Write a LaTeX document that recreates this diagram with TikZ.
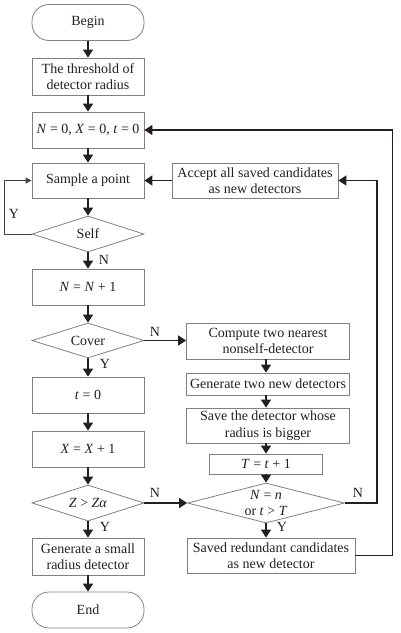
\documentclass[tikz,border=0pt]{standalone}
\usepackage{fontspec}
\setmainfont{Liberation Serif}
\usetikzlibrary{arrows.meta,shapes.geometric}
\newcommand{\myfs}{\fontsize{14pt}{16.5pt}\selectfont}
\definecolor{boxgray}{RGB}{128,128,128}
\definecolor{linecol}{RGB}{35,31,32}
\tikzset{
  box/.style={draw=boxgray, line width=0.8pt, minimum width=112pt, minimum height=36pt, inner sep=1pt, align=center, font=\myfs, text=linecol},
  term/.style={box, rounded corners=17pt},
  dec/.style={draw=boxgray, line width=0.8pt, diamond, minimum width=112pt, minimum height=36pt, inner sep=0pt, aspect=3.1, align=center, font=\myfs, text=linecol},
  conn/.style={draw=linecol, line width=1.6pt, -{Triangle[length=8pt,width=10pt]}},
  thinconn/.style={draw=linecol!85, line width=0.8pt, -{Triangle[length=6pt,width=6pt]}},
  lab/.style={font=\myfs, inner sep=0pt, text=linecol}
}
\begin{document}
\begin{tikzpicture}[x=1pt,y=-1pt]
\useasboundingbox (0,0) rectangle (401,633);
% left column
\node[term] (begin) at (88,22.5) {Begin};
\node[box, minimum height=37pt] (thr) at (88,76.5) {The threshold of\\detector radius};
\node[box] (init) at (88,130) {\textit{N} = 0, \textit{X} = 0, \textit{t} = 0};
\node[box, minimum height=35pt] (sample) at (88,180.5) {Sample a point};
\node[dec] (self) at (88,234) {Self};
\node[box] (inc) at (88,287) {\textit{N} = \textit{N} + 1};
\node[dec, minimum height=35pt] (cover) at (88,340.5) {Cover};
\node[box] (tz) at (88,395) {\textit{t} = 0};
\node[box] (xinc) at (88,449) {\textit{X} = \textit{X} + 1};
\node[dec] (zdec) at (88,503) {\textit{Z} > \textit{Zα}};
\node[box, minimum height=37pt] (gen) at (88,556.5) {Generate a small\\radius detector};
\node[term] (end) at (88,610) {End};
% right column
\node[box, minimum width=166pt, minimum height=35pt] (accept) at (255,180.5) {Accept all saved candidates\\as new detectors};
\node[box, minimum width=163pt] (comp) at (268,341) {Compute two nearest\\nonself-detector};
\node[box, minimum width=163pt, minimum height=22pt] (gen2) at (268,384) {Generate two new detectors};
\node[box, minimum width=163pt, minimum height=35pt] (save) at (268,425.5) {Save the detector whose\\radius is bigger};
\node[box, minimum width=113pt, minimum height=20pt] (tt) at (266,464) {\textit{T} = \textit{t} + 1};
\node[dec, minimum width=157pt, minimum height=40pt, aspect=3.9] (ndec) at (266,503) {\textit{N} = \textit{n}\\or \textit{t} > \textit{T}};
\node[box, minimum width=168pt, minimum height=35pt] (red) at (271,555.5) {Saved redundant candidates\\as new detector};
% left connectors
\draw[conn] (begin) -- (thr);
\draw[conn] (thr) -- (init);
\draw[conn] (init) -- (sample);
\draw[conn] (sample) -- (self);
\draw[conn] (self) -- (inc);
\draw[conn] (inc) -- (cover);
\draw[conn] (cover) -- (tz);
\draw[conn] (tz) -- (xinc);
\draw[conn] (xinc) -- (zdec);
\draw[conn] (zdec) -- (gen);
\draw[conn] (gen) -- (end);
\draw[thinconn] (self.west) -- ++(-27,0) |- (sample.west);
% cross connectors
\draw[conn] (cover.east) -- (cover.east -| comp.west);
\draw[conn] (zdec.east) -- (ndec.west);
\draw[conn] (accept.west) -- (sample.east);
% right connectors
\draw[conn] (comp.south -| tt) -- (gen2.north -| tt);
\draw[conn] (gen2.south -| tt) -- (save.north -| tt);
\draw[conn] (save.south -| tt) -- (tt.north);
\draw[conn] (tt) -- (ndec);
\draw[conn] (ndec.south) -- (ndec.south |- red.north);
\draw[conn] (ndec.east) -- ++(32,0) |- (accept.east);
\draw[conn] (red.east) -- ++(37,0) |- (init.east);
% labels
\node[lab] (ly) at (14,214) {Y};
\node[lab] (ln1) at (104,260) {N};
\node[lab] (ln2) at (155,332) {N};
\node[lab] (ly2) at (105,364) {Y};
\node[lab] (ln3) at (155,493) {N};
\node[lab] (ly3) at (105,527) {Y};
\node[lab] (ln4) at (358,493) {N};
\node[lab] (ly4) at (282,527) {Y};
\end{tikzpicture}
\end{document}
